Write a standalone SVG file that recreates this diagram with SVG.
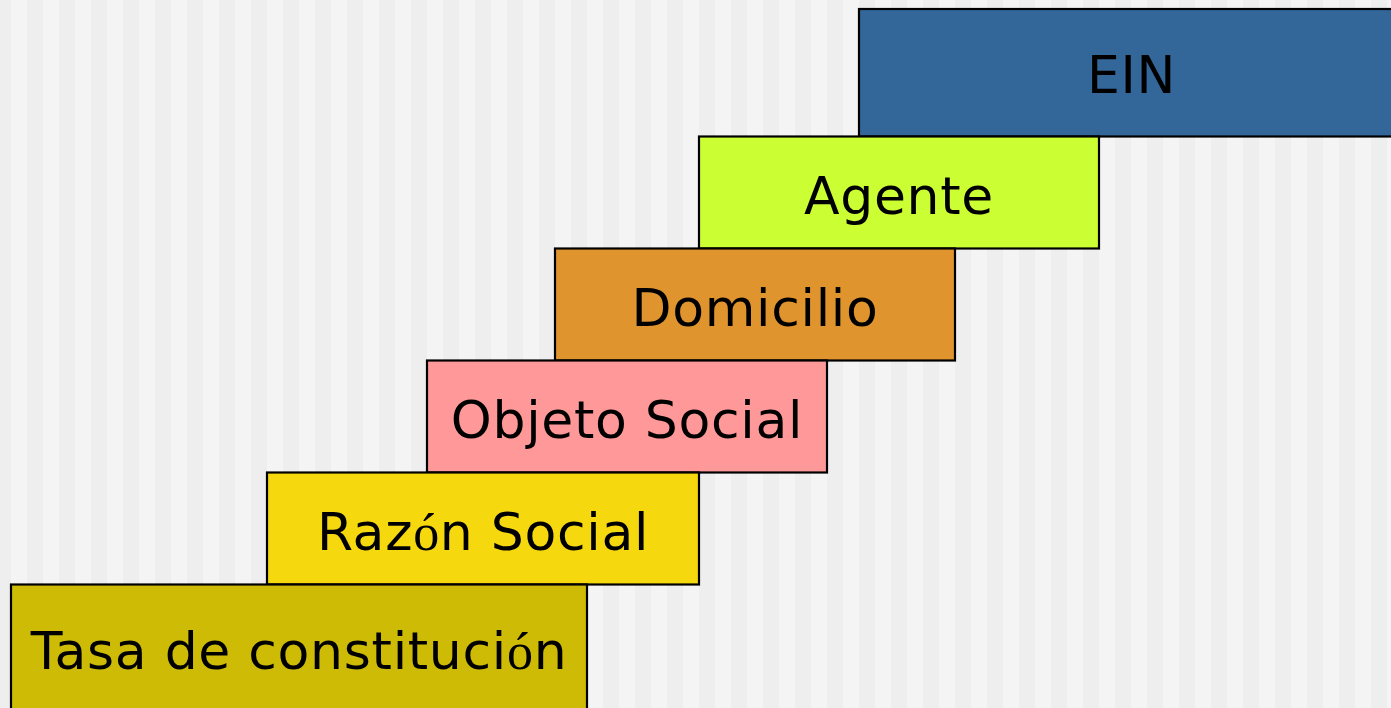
<svg xmlns="http://www.w3.org/2000/svg" width="1391" height="708" viewBox="0 0 1391 708">
<style>
.box{stroke:#000;stroke-width:2.2}
.lbl{font-family:"DejaVu Sans","Verdana",sans-serif;font-size:52px;fill:#000;text-anchor:middle;letter-spacing:0.7px}
.acc{font-family:"Liberation Serif","Times New Roman",serif}
</style>
<rect x="0" y="0" width="1391" height="708" fill="#eeeeee"/>
<path fill="#f4f4f4" d="M11 0h16v708h-16z M43 0h16v708h-16z M75 0h16v708h-16z M107 0h16v708h-16z M139 0h16v708h-16z M171 0h16v708h-16z M203 0h16v708h-16z M235 0h16v708h-16z M267 0h16v708h-16z M299 0h16v708h-16z M331 0h16v708h-16z M363 0h16v708h-16z M395 0h16v708h-16z M427 0h16v708h-16z M459 0h16v708h-16z M491 0h16v708h-16z M523 0h16v708h-16z M555 0h16v708h-16z M587 0h16v708h-16z M619 0h16v708h-16z M651 0h16v708h-16z M683 0h16v708h-16z M715 0h16v708h-16z M747 0h16v708h-16z M779 0h16v708h-16z M811 0h16v708h-16z M843 0h16v708h-16z M875 0h16v708h-16z M907 0h16v708h-16z M939 0h16v708h-16z M971 0h16v708h-16z M1003 0h16v708h-16z M1035 0h16v708h-16z M1067 0h16v708h-16z M1099 0h16v708h-16z M1131 0h16v708h-16z M1163 0h16v708h-16z M1195 0h16v708h-16z M1227 0h16v708h-16z M1259 0h16v708h-16z M1291 0h16v708h-16z M1323 0h16v708h-16z M1355 0h16v708h-16z M1387 0h16v708h-16z"/>
<g id="node-ein">
<rect class="box" x="859" y="9" width="560" height="127.5" fill="#336699"/>
<text class="lbl" x="1131.5" y="93">EIN</text>
</g>
<g id="node-agente">
<rect class="box" x="699" y="136.5" width="400" height="112" fill="#ccff33"/>
<text class="lbl" x="899" y="214">Agente</text>
</g>
<g id="node-domicilio">
<rect class="box" x="555" y="248.5" width="400" height="112" fill="#e0942e"/>
<text class="lbl" x="755" y="326">Domicilio</text>
</g>
<g id="node-objeto">
<rect class="box" x="427" y="360.5" width="400" height="112" fill="#ff9999"/>
<text class="lbl" x="627" y="438">Objeto Social</text>
</g>
<g id="node-razon">
<rect class="box" x="267" y="472.5" width="432" height="112" fill="#f6d80f"/>
<text class="lbl" x="483" y="550">Raz<tspan class="acc">ó</tspan>n Social</text>
</g>
<g id="node-tasa">
<rect class="box" x="11" y="584.5" width="576" height="140" fill="#cdbb05"/>
<text class="lbl" x="299" y="669">Tasa de constituci<tspan class="acc">ó</tspan>n</text>
</g>
<g id="connectors"></g>
</svg>
